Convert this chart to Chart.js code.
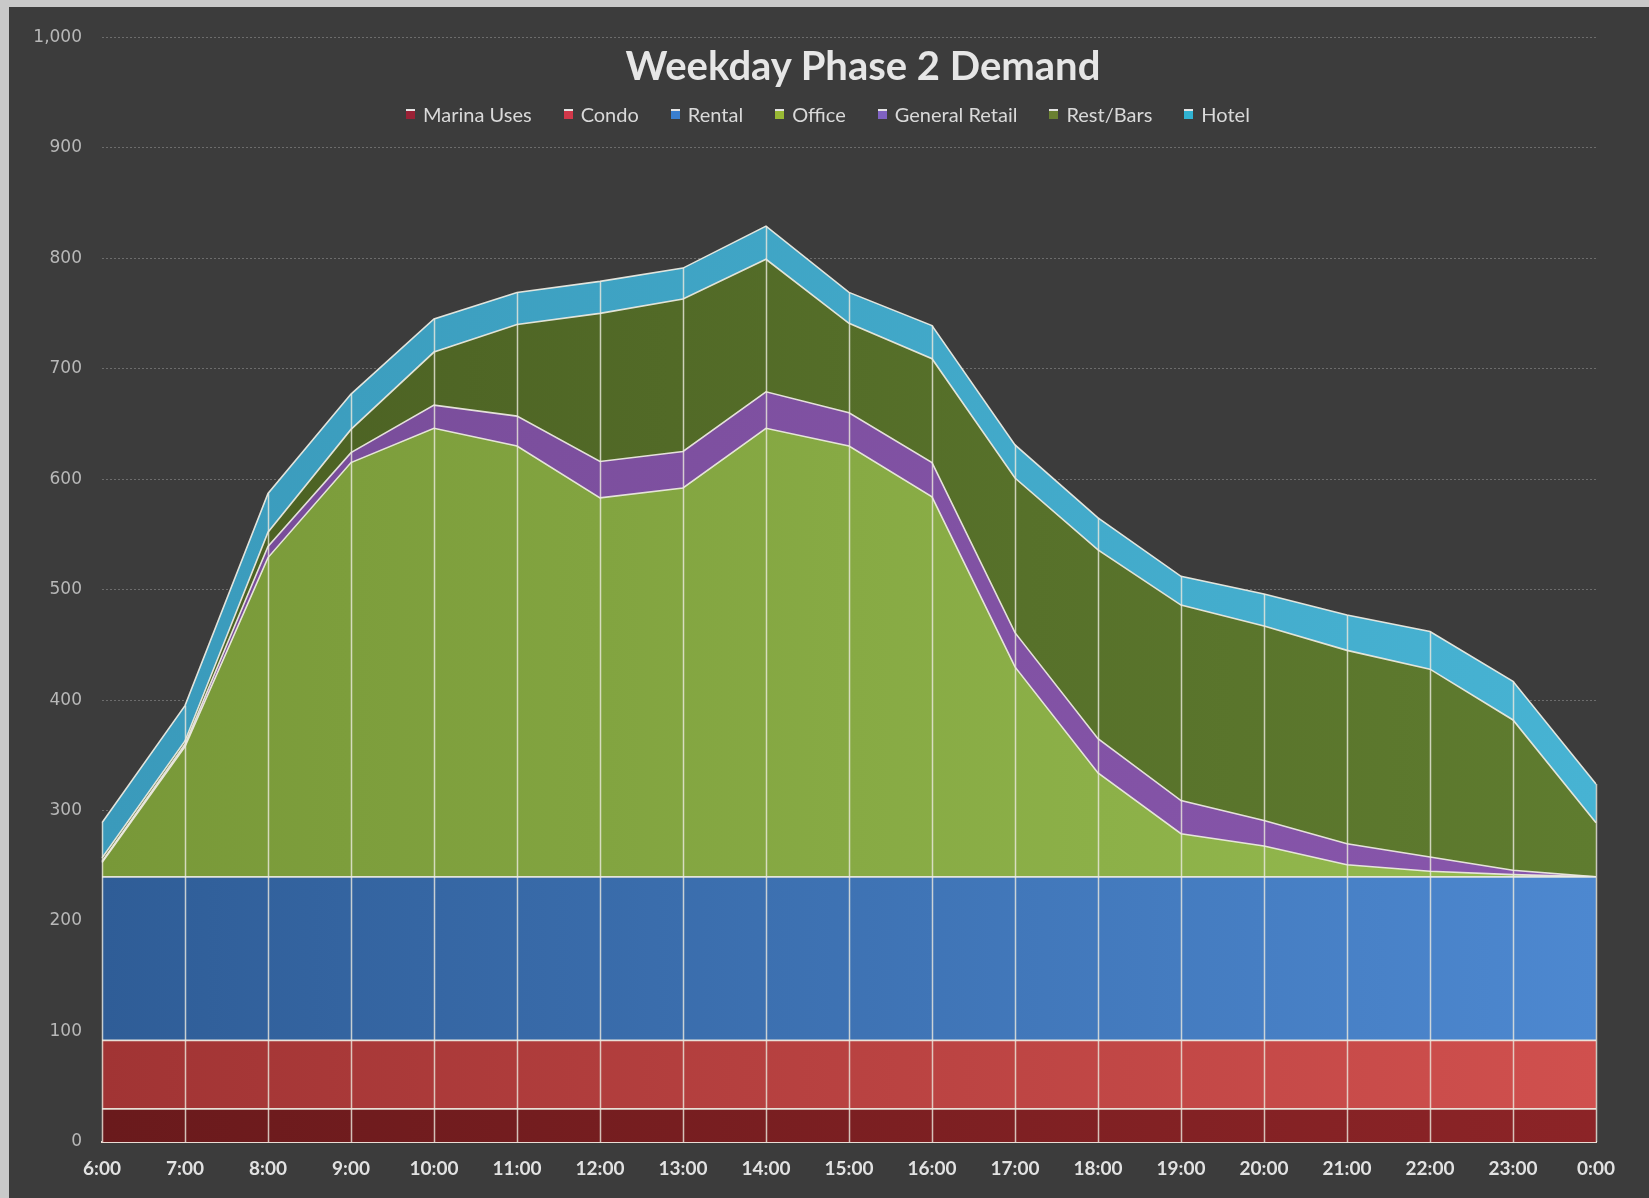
<!DOCTYPE html>
<html>
<head>
<meta charset="utf-8">
<script src="https://cdn.jsdelivr.net/npm/chart.js@4.4.0/dist/chart.umd.min.js"></script>
<style>
    html, body { margin: 0; padding: 0; }
    body { width: 1649px; height: 1198px; background: #c9c9c9; overflow: hidden; position: relative; }
    #frame { position: absolute; left: 9px; top: 7px; width: 1640px; height: 1191px; background: #3c3c3c; }
    #frame canvas { position: absolute; left: 0; top: 0; }
    #title {
        position: absolute; left: 0; width: 1708px; top: 35px;
        text-align: center; font: bold 40px Lato, "Open Sans", sans-serif; color: #e6e6e6;
        line-height: 46px;
    }
    #legend {
        position: absolute; left: 397px; top: 95px; display: flex;
        font: 20px Lato, "Open Sans", sans-serif; color: #d9d9d9; line-height: 24px;
    }
    .item { display: flex; align-items: center; margin-right: 32px; }
    .swatch { width: 9px; height: 10px; margin-right: 8px; border-top: 2px solid #e4e4e4; box-sizing: border-box; }
</style>
</head>
<body>
<div id="frame">
    <canvas id="chart" width="1640" height="1191"></canvas>
    <div id="title">Weekday Phase 2 Demand</div>
    <div id="legend"></div>
</div>
<script>
    const hours = ['6:00', '7:00', '8:00', '9:00', '10:00', '11:00', '12:00', '13:00', '14:00', '15:00',
        '16:00', '17:00', '18:00', '19:00', '20:00', '21:00', '22:00', '23:00', '0:00'];

    const marinaUses = [30, 30, 30, 30, 30, 30, 30, 30, 30, 30, 30, 30, 30, 30, 30, 30, 30, 30, 30];
    const condo = [62, 62, 62, 62, 62, 62, 62, 62, 62, 62, 62, 62, 62, 62, 62, 62, 62, 62, 62];
    const rental = [148, 148, 148, 148, 148, 148, 148, 148, 148, 148, 148, 148, 148, 148, 148, 148, 148, 148, 148];
    const office = [13, 118, 289, 375, 406, 390, 343, 352, 406, 390, 344, 190, 94, 39, 28, 11, 5, 2, 0];
    const generalRetail = [1, 2, 10, 9, 21, 27, 33, 33, 33, 30, 31, 31, 31, 30, 23, 19, 13, 4, 0];
    const restBars = [3, 3, 13, 21, 48, 83, 134, 138, 120, 81, 94, 140, 171, 177, 176, 175, 170, 136, 49];
    const hotel = [32, 32, 35, 32, 30, 29, 29, 28, 30, 28, 30, 30, 29, 26, 29, 32, 34, 35, 35];

    const yTicks = [0, 100, 200, 300, 400, 500, 600, 700, 800, 900, 1000];

    // left -> right shading, the original fades slightly lighter towards the right
    const series = [
        { label: 'Marina Uses', data: marinaUses, from: '#6a1a1c', to: '#8c2427', key: '#9a2236' },
        { label: 'Condo', data: condo, from: '#a13434', to: '#d0504e', key: '#d2384a' },
        { label: 'Rental', data: rental, from: '#2f5d97', to: '#4d88d0', key: '#3a7fd0' },
        { label: 'Office', data: office, from: '#789838', to: '#96bc50', key: '#98b834' },
        { label: 'General Retail', data: generalRetail, from: '#774c98', to: '#8856ac', key: '#7f62c2' },
        { label: 'Rest/Bars', data: restBars, from: '#4a5f22', to: '#5f7c2f', key: '#6a8032' },
        { label: 'Hotel', data: hotel, from: '#3a9abb', to: '#47b3d3', key: '#30b2d2' },
    ];

    function shade(from, to) {
        return (context) => {
            const { chart } = context;
            const area = chart.chartArea;
            if (!area) return from;
            const g = chart.ctx.createLinearGradient(area.left, 0, area.right, 0);
            g.addColorStop(0, from);
            g.addColorStop(1, to);
            return g;
        };
    }

    // vertical drop lines from the axis up to the top of the stack
    const dropLines = {
        id: 'dropLines',
        afterDatasetsDraw(chart) {
            const top = chart.getDatasetMeta(chart.data.datasets.length - 1);
            const x = chart.scales.x;
            const y = chart.scales.y;
            const ctx = chart.ctx;
            ctx.save();
            ctx.strokeStyle = 'rgba(236, 234, 222, 0.8)';
            ctx.lineWidth = 1.5;
            hours.forEach((h, i) => {
                const px = Math.round(x.getPixelForValue(i)) + 0.5;
                ctx.beginPath();
                ctx.moveTo(px, y.getPixelForValue(0));
                ctx.lineTo(px, top.data[i].y);
                ctx.stroke();
            });
            ctx.restore();
        }
    };

    new Chart(document.getElementById('chart'), {
        type: 'line',
        data: {
            labels: hours,
            datasets: series.map((s, i) => ({
                label: s.label,
                data: s.data,
                fill: i === 0 ? 'origin' : '-1',
                backgroundColor: shade(s.from, s.to),
                borderColor: 'rgba(240, 238, 228, 0.92)',
                borderWidth: 1.6,
                pointRadius: 0,
                tension: 0,
            })),
        },
        options: {
            responsive: false,
            animation: false,
            layout: { padding: { left: 0, top: 26, right: 53, bottom: 0 } },
            plugins: {
                legend: { display: false },
                title: { display: false },
                tooltip: { enabled: false },
            },
            scales: {
                x: {
                    offset: false,
                    grid: { display: false, drawTicks: false },
                    border: { display: true, color: '#eadcd4', width: 2 },
                    ticks: {
                        padding: 15,
                        color: '#e2e2e2',
                        font: { family: 'Lato', size: 19, weight: 'bold' },
                        maxRotation: 0,
                        autoSkip: false,
                    },
                    afterFit: (scale) => { scale.height = 56; },
                },
                y: {
                    stacked: true,
                    min: 0,
                    max: 1000,
                    afterBuildTicks: (scale) => { scale.ticks = yTicks.map(v => ({ value: v })); },
                    grid: { color: '#6c6c6c', lineWidth: 1, drawTicks: false },
                    border: { display: false, dash: [2, 2] },
                    ticks: {
                        padding: 20,
                        color: '#b8b8b8',
                        font: { family: 'DejaVu Sans', size: 17 },
                        callback: (v) => v.toLocaleString('en-US'),
                    },
                    afterFit: (scale) => { scale.width = 93; },
                },
            },
        },
        plugins: [dropLines],
    });

    const legend = document.getElementById('legend');
    series.forEach((s) => {
        const item = document.createElement('div');
        item.className = 'item';
        const sw = document.createElement('span');
        sw.className = 'swatch';
        sw.style.background = s.key;
        const txt = document.createElement('span');
        txt.textContent = s.label;
        item.appendChild(sw);
        item.appendChild(txt);
        legend.appendChild(item);
    });
</script>
</body>
</html>
